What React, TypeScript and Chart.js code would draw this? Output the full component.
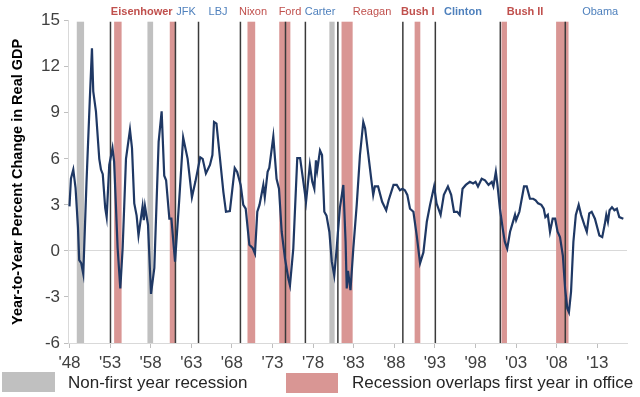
import React, { useEffect, useRef } from 'react';
import { Chart, registerables } from 'chart.js';

Chart.register(...registerables);

// ---- Data ----
const gdpYears = [
  1948.0, 1948.18, 1948.47, 1948.75, 1949.05, 1949.2, 1949.45, 1949.7, 1950.1, 1950.5,
  1950.77, 1950.93, 1951.26, 1951.67, 1951.88, 1952.1, 1952.4, 1952.58, 1952.9, 1953.3,
  1953.5, 1953.93, 1954.26, 1954.55, 1954.96, 1955.45, 1955.7, 1955.98, 1956.27, 1956.5,
  1957.0, 1957.15, 1957.3, 1957.67, 1958.04, 1958.45, 1958.98, 1959.35, 1959.67, 1959.9,
  1960.3, 1960.55, 1961.0, 1961.5, 1962.0, 1962.55, 1963.08, 1963.5, 1964.1, 1964.4,
  1964.8, 1965.3, 1965.6, 1965.8, 1966.1, 1966.5, 1966.95, 1967.27, 1967.75, 1968.35,
  1968.65, 1969.08, 1969.4, 1969.7, 1970.15, 1970.55, 1970.84, 1971.13, 1971.4, 1971.87,
  1972.05, 1972.4, 1972.6, 1973.1, 1973.5, 1973.8, 1974.13, 1974.54, 1974.95, 1975.15,
  1975.56, 1976.05, 1976.4, 1976.8, 1977.13, 1977.6, 1977.9, 1978.15, 1978.35, 1978.5,
  1978.85, 1979.1, 1979.38, 1979.65, 1980.0, 1980.3, 1980.6, 1980.9, 1981.1, 1981.3,
  1981.72, 1982.0, 1982.14, 1982.3, 1982.6, 1982.95, 1983.37, 1983.77, 1984.18, 1984.4,
  1984.8, 1985.2, 1985.4, 1985.6, 1986.0, 1986.5, 1987.0, 1987.3, 1987.9, 1988.3,
  1988.7, 1989.0, 1989.3, 1989.6, 1989.93, 1990.35, 1990.76, 1991.17, 1991.58, 1992.0,
  1992.4, 1992.9, 1993.2, 1993.7, 1994.1, 1994.6, 1995.0, 1995.35, 1995.75, 1996.05,
  1996.4, 1996.8, 1997.3, 1997.7, 1998.0, 1998.3, 1998.76, 1999.17, 1999.6, 2000.0,
  2000.2, 2000.5, 2000.7, 2001.0, 2001.35, 2001.6, 2001.9, 2002.25, 2002.5, 2002.86,
  2003.0, 2003.4, 2003.97, 2004.3, 2004.7, 2005.1, 2005.4, 2005.7, 2006.1, 2006.4,
  2006.6, 2006.9, 2007.17, 2007.5, 2007.8, 2008.1, 2008.4, 2008.75, 2009.03, 2009.3,
  2009.5, 2009.76, 2010.05, 2010.35, 2010.7, 2011.0, 2011.4, 2011.7, 2012.0, 2012.3,
  2012.7, 2013.25, 2013.6, 2013.9, 2014.1, 2014.3, 2014.5, 2014.8, 2015.1, 2015.4,
  2015.7, 2016.2,
];
const gdpGrowth = [
  2.9, 4.7, 5.3, 4.1, 1.5, -0.6, -0.8, -1.5, 4.5, 9.8,
  13.2, 10.4, 9.1, 6.0, 5.3, 5.0, 2.8, 2.2, 5.6, 6.7,
  5.8, 0.2, -2.45, 0.2, 6.0, 7.9, 6.7, 3.1, 2.3, 1.0,
  2.9, 2.0, 2.9, 1.7, -2.8, -1.1, 7.1, 9.1, 4.9, 4.6,
  2.1, 2.1, -0.7, 3.2, 7.4, 6.0, 3.5, 4.5, 6.1, 6.0,
  5.05, 5.6, 6.25, 8.4, 8.3, 6.2, 3.85, 2.55, 2.6, 5.4,
  5.15, 4.3, 3.0, 2.75, 0.4, 0.2, -0.17, 2.55, 3.0, 4.3,
  3.5, 5.15, 5.4, 7.45, 4.7, 4.05, 1.25, -0.5, -1.8, -2.25,
  0.15, 6.05, 6.05, 4.5, 3.2, 5.6, 4.5, 4.05, 5.9, 5.25,
  6.55, 6.25, 2.55, 2.3, 1.25, -0.7, -1.6, 0.15, 1.5, 2.8,
  4.3, 0.6, -2.45, -1.3, -2.55, 0.15, 3.0, 6.25, 8.4, 8.0,
  6.25, 4.5, 3.65, 4.2, 4.2, 3.2, 2.65, 3.3, 4.3, 4.3,
  3.95, 4.05, 3.95, 3.65, 2.75, 2.55, 1.0, -0.8, -0.1, 1.9,
  3.0, 4.2, 3.1, 2.35, 3.65, 4.2, 3.65, 2.55, 2.55, 2.35,
  4.05, 4.3, 4.5, 4.4, 4.5, 4.2, 4.7, 4.6, 4.3, 4.5,
  4.2, 5.15, 4.3, 2.75, 1.45, 0.6, 0.15, 1.25, 1.7, 2.35,
  2.0, 2.55, 4.2, 4.2, 3.4, 3.4, 3.3, 3.1, 3.0, 2.75,
  2.2, 2.35, 1.25, 2.1, 2.1, 1.25, 0.9, -0.3, -2.45, -3.75,
  -4.0, -2.65, 0.6, 2.35, 3.0, 2.35, 1.7, 1.25, 2.45, 2.55,
  2.1, 1.0, 0.9, 1.7, 2.35, 1.9, 2.65, 2.85, 2.65, 2.75,
  2.2, 2.1,
];

const recessionStart = [1948.9, 1953.5, 1957.6, 1960.35, 1969.92, 1973.83, 1980.0, 1981.5, 1990.5, 2001.2, 2007.92];
const recessionEnd = [1949.8, 1954.42, 1958.3, 1961.1, 1970.87, 1975.2, 1980.65, 1982.87, 1991.2, 2001.87, 2009.45];
const recessionFirstYear = [false, true, false, true, true, true, false, true, true, true, true];

const transitionYears = [1953.05, 1961.05, 1963.89, 1969.05, 1974.6, 1977.05, 1981.05, 1989.05, 1993.05, 2001.05, 2009.05];

const presidents = ['Eisenhower', 'JFK', 'LBJ', 'Nixon', 'Ford', 'Carter', 'Reagan', 'Bush I', 'Clinton', 'Bush II', 'Obama'];
const presidentParty = ['R', 'D', 'D', 'R', 'R', 'D', 'R', 'R', 'D', 'R', 'D'];
const presidentLabelYear = [1956.9, 1962.35, 1966.3, 1970.6, 1975.15, 1978.85, 1985.25, 1990.9, 1996.45, 2004.1, 2013.35];

const xTickYears = [1948, 1953, 1958, 1963, 1968, 1973, 1978, 1983, 1988, 1993, 1998, 2003, 2008, 2013];
const yTickValues = [-6, -3, 0, 3, 6, 9, 12, 15];

const legendLabels = ['Non-first year recession', 'Recession overlaps first year in office'];
const yAxisTitle = 'Year-to-Year Percent Change in Real GDP';

// ---- Styles ----
const FONT = '"Liberation Sans", Arial, Helvetica, sans-serif';
const GRAY = '#c0c0c0';
const PINK = '#d99694';
const RED = '#c0504d';
const BLUE = '#4f81bd';
const BOLD_NAMES = ['Eisenhower', 'Bush I', 'Clinton', 'Bush II'];

const overlayPlugin = {
  id: 'overlay',
  beforeDatasetsDraw(chart: any) {
    const { ctx, chartArea: a, scales } = chart;
    const x = scales.x;
    ctx.save();
    recessionStart.forEach((s, i) => {
      const x0 = x.getPixelForValue(s);
      const x1 = x.getPixelForValue(recessionEnd[i]);
      ctx.fillStyle = recessionFirstYear[i] ? PINK : GRAY;
      ctx.fillRect(x0, a.top + 1, x1 - x0, a.bottom - a.top - 1);
    });
    ctx.strokeStyle = '#3a3a3a';
    ctx.lineWidth = 1.5;
    transitionYears.forEach((t) => {
      const px = x.getPixelForValue(t);
      ctx.beginPath();
      ctx.moveTo(px, a.top + 1);
      ctx.lineTo(px, a.bottom);
      ctx.stroke();
    });
    ctx.restore();
  },
  afterDraw(chart: any) {
    const { ctx, scales } = chart;
    const x = scales.x;
    ctx.save();
    ctx.textAlign = 'center';
    ctx.textBaseline = 'middle';
    presidents.forEach((name, i) => {
      const bold = BOLD_NAMES.includes(name);
      ctx.font = `${bold ? 'bold ' : ''}11px ${FONT}`;
      ctx.fillStyle = presidentParty[i] === 'R' ? RED : BLUE;
      ctx.fillText(name, x.getPixelForValue(presidentLabelYear[i]), 11.5);
    });
    // legend
    ctx.textAlign = 'left';
    ctx.font = `17px ${FONT}`;
    ctx.fillStyle = GRAY;
    ctx.fillRect(2, 372, 53, 20);
    ctx.fillStyle = PINK;
    ctx.fillRect(286, 373, 52, 20);
    ctx.fillStyle = '#262626';
    ctx.fillText(legendLabels[0], 68, 383);
    ctx.fillText(legendLabels[1], 352, 383);
    ctx.restore();
  },
};

export default function App() {
  const canvasRef = useRef<HTMLCanvasElement | null>(null);

  useEffect(() => {
    const canvas = canvasRef.current;
    if (!canvas) return;
    const chart = new Chart(canvas, {
      type: 'line',
      data: {
        datasets: [
          {
            label: 'Real GDP YoY',
            data: gdpYears.map((yr, i) => ({ x: yr, y: gdpGrowth[i] })),
            borderColor: '#1f3864',
            borderWidth: 2.2,
            pointRadius: 0,
            tension: 0,
            fill: false,
          },
        ],
      },
      options: {
        animation: false,
        responsive: false,
        maintainAspectRatio: false,
        layout: { padding: { top: 20.7, right: 13, left: 0, bottom: 0 } },
        plugins: {
          legend: { display: false },
          tooltip: { enabled: false },
        },
        scales: {
          x: {
            type: 'linear',
            min: 1947.82,
            max: 2016.65,
            afterFit: (s: any) => {
              s.height = 54;
            },
            afterBuildTicks: (s: any) => {
              s.ticks = xTickYears.map((v) => ({ value: v }));
            },
            ticks: {
              callback: (v: any) => "'" + String(v).slice(2),
              font: { size: 17, family: FONT },
              color: '#404040',
              padding: 5,
              maxRotation: 0,
              autoSkip: false,
            },
            grid: { drawOnChartArea: false, drawTicks: true, tickLength: 5, tickColor: '#bfbfbf' },
            border: { color: '#d9d9d9', width: 1 },
          },
          y: {
            min: -6,
            max: 15,
            afterFit: (s: any) => {
              s.width = 68;
            },
            afterBuildTicks: (s: any) => {
              s.ticks = yTickValues.map((v) => ({ value: v }));
            },
            ticks: {
              font: { size: 17, family: FONT },
              color: '#404040',
              padding: 4,
            },
            grid: {
              color: (c: any) => (c.tick && c.tick.value === 0 ? '#d9d9d9' : 'rgba(0,0,0,0)'),
              tickColor: '#bfbfbf',
              tickLength: 4,
              drawTicks: true,
            },
            border: { color: '#d9d9d9', width: 1 },
            title: {
              display: true,
              text: yAxisTitle,
              font: { size: 14.5, weight: 'bold', family: FONT },
              color: '#000000',
              padding: { top: 9, bottom: 0 },
            },
          },
        },
      },
      plugins: [overlayPlugin],
    });
    return () => chart.destroy();
  }, []);

  return (
    <div style={{ position: 'fixed', left: 0, top: 0, width: 640, height: 397, background: '#ffffff' }}>
      <canvas ref={canvasRef} width={640} height={397} style={{ width: 640, height: 397, display: 'block' }} />
    </div>
  );
}
